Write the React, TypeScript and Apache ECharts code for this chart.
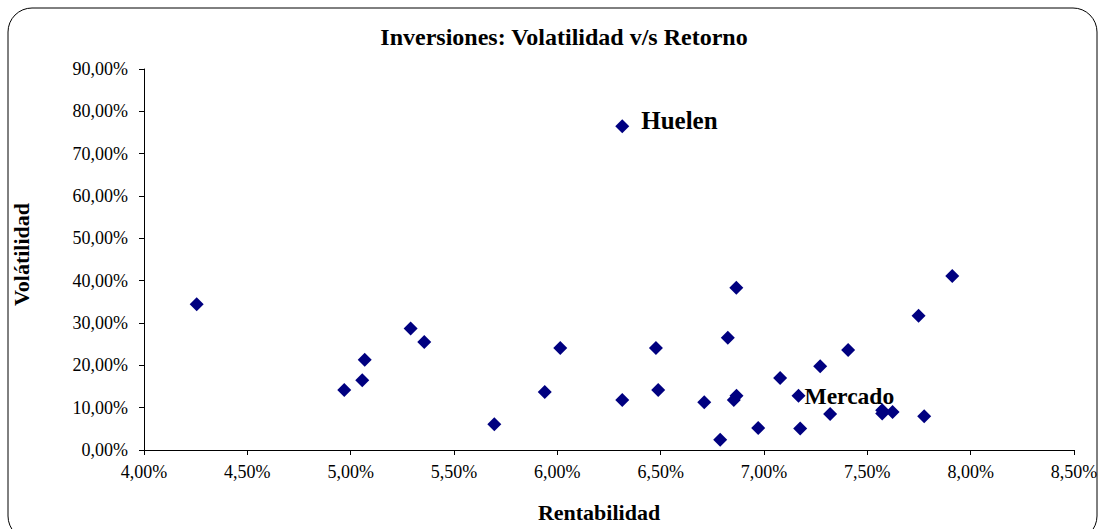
import React, { useEffect, useRef } from "react";
import * as echarts from "echarts";

const rentabilidad = [
  4.255, 4.969, 5.056, 5.068, 5.29, 5.356, 5.695, 5.939, 6.014, 6.314, 6.314,
  6.477, 6.488, 6.711, 6.788, 6.825, 6.866, 6.854, 6.867, 6.972, 7.078, 7.167,
  7.175, 7.272, 7.32, 7.407, 7.572, 7.572, 7.622, 7.748, 7.775, 7.911,
];
const volatilidad = [
  34.4, 14.2, 16.5, 21.3, 28.7, 25.5, 6.1, 13.7, 24.1, 76.5, 11.8, 24.1, 14.2,
  11.3, 2.4, 26.5, 38.3, 11.8, 12.8, 5.2, 17.0, 12.8, 5.1, 19.8, 8.5, 23.6,
  9.4, 8.6, 9.0, 31.7, 8.0, 41.1,
];
const nombres = [
  "", "", "", "", "", "", "", "", "", "Huelen", "", "", "", "", "", "", "", "",
  "", "", "", "Mercado", "", "", "", "", "", "", "", "", "", "",
];
const xTicks = { min: 4, max: 8.5, interval: 0.5 };
const yTicks = { min: 0, max: 90, interval: 10 };

const FONT = "'Liberation Serif', 'Times New Roman', serif";

export default function App() {
  const ref = useRef<HTMLDivElement>(null);
  useEffect(() => {
    document.body.style.margin = "0";
    const chart = echarts.init(ref.current!, undefined, { renderer: "svg" });
    const fmt = (v: number) => v.toFixed(2).replace(".", ",") + "%";
    const data = rentabilidad.map((x, i) => {
      const name = nombres[i];
      if (!name) return [x, volatilidad[i]];
      const big = name === "Huelen";
      return {
        value: [x, volatilidad[i]],
        label: {
          show: true,
          formatter: name,
          position: "right",
          distance: big ? 12 : -1,
          offset: big ? [0, -6] : [0, 0],
          color: "#000",
          fontFamily: FONT,
          fontWeight: "bold",
          fontSize: big ? 25 : 23.5,
        },
      };
    });
    chart.setOption({
      animation: false,
      title: {
        text: "Inversiones: Volatilidad v/s Retorno",
        left: 559,
        textAlign: "center",
        top: 20,
        textStyle: { fontFamily: FONT, fontWeight: "bold", fontSize: 24, color: "#000" },
      },
      graphic: [
        {
          type: "rect",
          shape: { x: 8, y: 8, width: 1089, height: 532, r: 24 },
          style: { fill: "none", stroke: "#000", lineWidth: 1 },
          silent: true,
        },
      ],
      grid: { left: 144, right: 26, top: 69, bottom: 79, outerBoundsMode: "none" },
      xAxis: {
        type: "value",
        min: xTicks.min,
        max: xTicks.max,
        interval: xTicks.interval,
        name: "Rentabilidad",
        nameLocation: "middle",
        nameGap: 51,
        nameTextStyle: {
          fontFamily: FONT,
          fontWeight: "bold",
          fontSize: 22,
          color: "#000",
          padding: [0, 20, 0, 0],
        },
        axisLine: { show: true, lineStyle: { color: "#000", width: 1 } },
        axisTick: { show: true, length: 5, lineStyle: { color: "#000" } },
        axisLabel: { formatter: fmt, fontFamily: FONT, fontSize: 18, color: "#000", margin: 13 },
        splitLine: { show: false },
      },
      yAxis: {
        type: "value",
        min: yTicks.min,
        max: yTicks.max,
        interval: yTicks.interval,
        name: "Volátilidad",
        nameLocation: "middle",
        nameGap: 112,
        nameTextStyle: {
          fontFamily: FONT,
          fontWeight: "bold",
          fontSize: 22,
          color: "#000",
          padding: [0, 0, 0, 10],
        },
        axisLine: { show: true, lineStyle: { color: "#000", width: 1 } },
        axisTick: { show: true, length: 5, lineStyle: { color: "#000" } },
        axisLabel: { formatter: fmt, fontFamily: FONT, fontSize: 18, color: "#000", margin: 16 },
        splitLine: { show: false },
      },
      series: [
        {
          type: "scatter",
          symbol: "diamond",
          symbolSize: 14,
          itemStyle: { color: "#000080", opacity: 1 },
          data,
        },
      ],
    });
    return () => chart.dispose();
  }, []);
  return <div ref={ref} style={{ width: 1100, height: 529 }} />;
}
